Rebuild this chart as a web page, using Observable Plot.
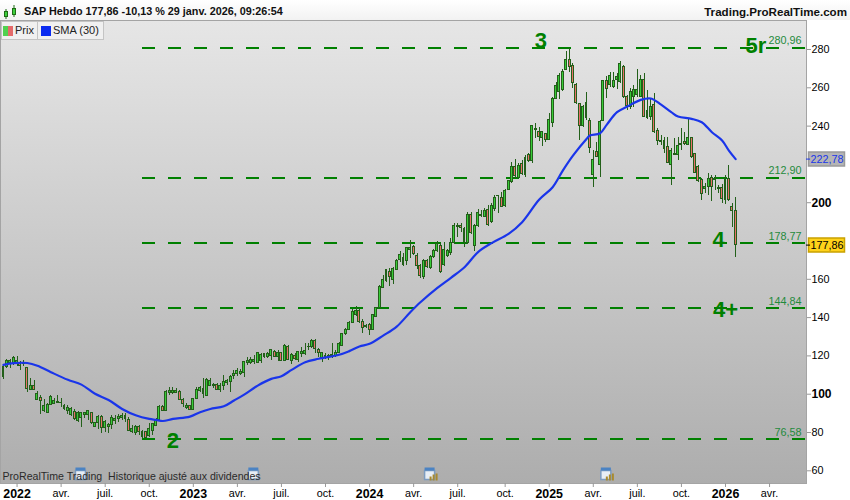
<!DOCTYPE html>
<html><head><meta charset="utf-8">
<script src="https://cdn.jsdelivr.net/npm/d3@7"></script>
<script src="https://cdn.jsdelivr.net/npm/@observablehq/plot@0.6"></script>
<style>
html,body{margin:0;padding:0;background:#fff;font-family:"Liberation Sans",Arial,sans-serif;width:850px;height:500px;overflow:hidden}
#head{position:relative;height:20px;width:850px;background:linear-gradient(#fff,#f2f2f2);font-weight:bold;line-height:19px;color:#111}
#head .l{position:absolute;left:24px;top:2px;white-space:pre;font-size:10.8px}
#head .r{position:absolute;right:3px;top:2px;white-space:pre;font-size:11.6px}
#head svg{position:absolute;left:4px;top:1px}
#legend{position:absolute;left:1px;top:21px;height:17px;display:flex;font-size:11px;line-height:17px;color:#222;border:1px solid #c4c4c4;background:#f0f0f0}
#legend div{display:flex;align-items:center;padding:0 3px 0 1px;white-space:pre}
#legend div+div{border-left:1px solid #c4c4c4;padding-left:3px;padding-right:4px}
#legend i{display:inline-block;height:10px;margin-right:2px}
</style></head><body>
<div id="head">
<svg width="16" height="18"><path d="M2 8v10M10 4v12" stroke="#1e6b14"/><rect x="0.5" y="10.5" width="3" height="5" fill="#3ccf3c" stroke="#1e6b14"/><rect x="8.5" y="7.5" width="3" height="6" fill="#3ccf3c" stroke="#1e6b14"/></svg>
<span class="l" id="titleL"></span><span class="r" id="titleR"></span></div>
<div id="legend"><div><i style="width:5px;background:#4fd14f;margin-right:0"></i><i style="width:5px;background:#e46a6a"></i><span id="lg0"></span></div><div><i style="width:10px;background:#0a2bf0"></i><span id="lg1"></span></div></div>
<div id="chart"></div>
<script>
const titleLeft = "SAP Hebdo 177,86 -10,13 % 29 janv. 2026, 09:26:54";
const titleRight = "Trading.ProRealTime.com";
const legendNames = ["Prix", "SMA (30)"];
const footNote = "ProRealTime Trading  Historique ajusté aux dividendes";

const tops = [114.1,117.2,117.2,119,117.2,116.2,116.5,113.7,104.5,104.5,
100.2,98,93.9,94.6,98.8,96.7,95.8,95.6,94.1,92.7,
92.3,90.7,90,90,90,91.1,90,84.8,88.3,88.3,
85.4,84.1,87.6,87.1,88,88.8,88.8,86.6,81.7,82.7,
82.7,80.1,80.1,81.9,84.5,86.6,93.5,93.5,101.4,101.9,
101.9,101.9,101,97,94.1,93.7,97.5,102.2,103.3,102.8,
107.5,106.8,105,104.9,104.5,106.2,106.8,109.2,110.6,112,
111.5,116.7,117.6,117.9,117.9,121.4,120.7,121,121,123.1,
122.3,121.4,121.4,125.4,124.9,120.6,120,122,122.3,122.8,
124.9,128,127.7,123.2,121.4,119.7,120.2,120.7,121.4,126,
131.5,133.6,137.4,143,143.7,143.7,137.6,135.7,136.2,141.3,
145.1,156.2,159.7,164.6,163.9,165.4,169.3,172.8,171.2,176.1,
176.4,177.1,172.4,167,169.6,169.6,171.9,175,178.5,177.5,
175.4,175,179.2,187.6,187.9,187.9,186.5,193.8,193.7,187.9,
194.7,193.8,195.9,196.3,198.5,202.6,203.7,202.6,206,211.1,
218.9,218.6,219.4,220,223.3,225,239.8,238.6,236.8,236.8,
236,243.3,254.2,261.2,266.4,268.3,274.6,274.6,271.6,261.5,
251.6,249.9,252.1,242.6,222.4,226.4,242,263.4,263.3,266.2,
263.3,265.5,272.5,270.8,255.4,258,258.9,258.6,264.1,264.1,
248.1,249.9,251.2,237.7,232.4,232.1,229,226.9,225.5,229.5,
230.7,231.9,233.9,233.9,225.2,218.9,211.6,208.4,212.4,213,
212.4,207.8,207.8,212.4,212.4,198,195.6];
const bottoms = [109.2,114.1,116.5,116.2,115.8,114.9,115.8,102.8,102.4,102.2,
97,96.7,91.4,90.1,94.6,94.9,95.3,95.3,92.3,91.1,
89.4,86.9,85.9,87.6,89,89,84.8,83.1,84.8,82.4,
82.4,83.1,84.1,86.2,87.1,87.6,87.1,81,80.1,79.6,
80.1,77.5,77.2,78.4,81,83.6,86.6,91.4,91.4,100.5,
100.8,100.7,97,94.9,92.7,91.8,91.8,97.5,101.9,100.2,
99.3,104.5,104.5,102.2,102.2,104.5,105.7,106.2,109.7,110.6,
110.6,110.9,116.2,116.5,116.7,116.2,117.2,119.3,119.6,120.2,
119.6,119.6,117.6,117.2,118,117.2,118.3,118,121.1,121.1,
124.6,124.6,123.7,121.4,119,119.3,119.3,119.7,119.7,121.4,
125.4,131.2,133.6,137.1,141.6,137.6,134.6,135,133.6,133.6,
140.2,145.1,155.5,159,161.1,159.7,165.1,170.3,167.4,169.8,
175.4,173.1,167,161.5,161.1,166.3,165.7,171.6,174.7,163.7,
167.4,172.4,173.6,178.9,187.2,186.9,179.4,178.9,184.1,177.6,
187.9,193.3,192.4,188.1,189.8,196.5,203.4,198,198.2,206.6,
210.7,214.2,213,215.1,214.6,222,221.7,238,234.2,233.9,
232.5,232.8,241.7,253.9,257.7,258.6,269.4,271.1,262.6,252,
239.9,240.3,244.3,228.6,214.5,223.8,219.9,242.9,259.4,261.5,
260.3,264.3,262.9,255.1,250.7,250.2,255.1,256,255.4,244.6,
244.1,245,236.8,232.1,231.6,227.8,220.8,219.9,225,225.1,
229.9,230.7,229.9,223.8,215.4,211.1,204.6,207.2,208.1,208.1,
211.9,207.2,202,201.5,201.5,195.6,177.86];
const highs = [114.5,117.9,117.9,119.6,119.6,117.2,117.6,114.1,108,107.1,
101.5,99.3,97,94.9,99.3,97.5,99.3,98,94.6,94.1,
93.2,91.8,91.1,90.6,90.7,91.4,90.4,85.4,88.8,88.8,
86.2,84.5,88.8,88.8,89.4,90,89.7,87.6,83.6,83.6,
83.6,81,80.7,84.8,84.8,87.1,94.1,94.1,101.9,103.3,
103.6,102.8,101.9,98,94.9,94.2,98,103.6,104,108,
108,108,105.7,105.4,105.7,109.7,107.5,109.7,112.3,113.2,
112.7,117.2,119.3,119.3,120.2,121.9,121,121.4,121.9,123.6,
122.8,122.8,122,126,125.4,121.1,121.1,122.5,124.6,126.6,
126.3,128.4,128.4,123.7,122,121.1,120.7,126.3,122.8,127.2,
131.9,134.1,137.8,144.1,145.8,144.6,138.8,136.4,137.1,141.6,
145.4,156.8,162,165.3,165.4,166.3,170.2,174.5,173.3,176.8,
180.2,177.6,173.3,167.7,170.2,170.2,172.4,175.4,179.9,178.5,
179.4,175.4,181.1,189,189.3,189,187.2,195,195,188.6,
196.3,195.9,196.8,198.5,199.4,203.8,203.8,205.5,206.7,211.5,
221.2,222.4,220.3,222,224.7,225.5,240.3,241.2,239.5,236.8,
236.3,246.8,254.8,262.9,267.3,269.4,279.1,280.3,272.5,262,
252,250.7,257.7,243.8,227.2,231.6,242.9,263.8,265.9,268.1,
268.1,267.3,273.9,271.6,255.9,259.4,261.2,269.4,266.4,267.3,
258.6,254.2,257.2,238.5,235.1,233.9,233.9,228.1,233.3,233.9,
238.9,236.8,243.8,234.2,225.5,219.4,212.4,209.8,215,214.2,
214.2,209,209.5,214.2,219.4,199.7,202.5];
const lows = [107.8,113.2,113.6,115,114.4,112.3,114.4,101,102.2,101.9,
96.7,89.4,90.6,89.7,94.1,94.6,94.9,93.2,91.4,89.4,
88.3,86.2,85.4,82.7,87.1,86.2,84.4,82.4,81.4,79.6,
80.1,79.6,81.4,84.1,85.4,86.2,85.4,80.7,79.3,78.4,
78.4,76.7,76.8,77.5,78.4,83.1,86.2,91.1,91.1,99.3,
99.8,100.2,96.7,92.8,91.8,91.4,91.4,97,101,97.5,
98.8,104,102.8,101.9,101,101.9,104.5,101,107.5,109.2,
109.7,108.5,115,115.5,115.5,115.8,115.8,118.4,118.4,117.6,
119.3,117.2,117.2,116.9,117.6,115.5,117.6,116.7,119.3,120.2,
122.8,123.7,121.1,119.3,116.7,118,117.6,118.5,119.3,121.1,
124.9,130.7,133.3,136.7,140.6,137.1,131.9,134.1,130.7,133.3,
139.9,144.6,155,158.5,156.2,157.3,164.6,169,166.7,167.2,
170.7,172.4,165,160.2,159.7,165.4,165,170.7,174.2,163.2,
166.7,171.6,172.4,178.2,182,184.6,176.4,178.2,183.4,174.7,
187.2,192.4,192.1,187.6,189.3,195.6,194.2,197.7,197.7,206.2,
210.2,212.5,212.5,214.2,213,221.2,220.7,233.4,232.1,229.4,
231.6,232.5,239.5,253.7,253.7,258.2,269,268.1,259.4,251.3,
232.5,239.4,242.9,225.5,207.7,223.4,213.3,242.5,254.2,260.3,
259.4,258.9,262.4,254.2,248.1,248.5,249.5,255.1,255.1,244.3,
243.2,242.9,235.9,229.8,229.8,225.5,220.6,209,224.6,222,
227.2,229.9,229.9,222.9,215.1,210.7,201.1,204.6,203.7,200.8,
206.4,204.6,199.7,199,200.8,187.2,171.5];
const fallingWeeks = [5,7,9,11,18,21,26,29,37,40,42,47,52,53,55,59,63,80,82,84,86,92,93,105,106,108,114,118,121,122,123,125,129,135,136,138,143,147,151,153,155,158,160,167,168,169,170,172,173,175,178,183,184,189,190,192,193,196,201,203,204,205,206,209,212,214,215,216];

const smaWeeks = [0,3,7,10,14,19,23,27,31,35,39,43,45,47,50,55,58,61,65,68,71,75,79,82,85,89,93,99,102,105,108,112,116,120,123,128,132,136,140,144,149,153,158,162,165,168,172,173,176,178,181,184,188,191,194,197,199,203,206,209,212,214,216];
const smaValues = [115.3,116.2,116.3,114.9,111.5,107.5,105,100.2,97,92.3,89,87.1,86.6,86,87.1,88.3,90.6,92.3,93.7,96.7,99.8,104.5,108,109.4,112.7,116.7,118.5,120.6,122.5,124.9,126.3,130.6,135.3,142.8,148,155.5,160.8,166.3,174.2,178.9,183.7,189.8,201.5,208.1,216.8,224.6,233.3,235.1,236.3,240.8,247.3,250.2,253.7,254.4,251.2,247.3,245,243.8,242,236.8,232.5,227.2,222.78];

const levels = [280.96,212.9,178.77,144.84,76.58];
const levelLabels = ["280,96","212,90","178,77","144,84","76,58"];
const waveLabels = ["3","5r","4","4+","2"];
const waveWeeks = [158.5,222,211,213,50];
const wavePrices = [284.7,282.1,180.3,144.2,75.8];
const priceTags = [222.78,177.86];
const priceTagLabels = ["222,78","177,86"];
const yTicks = [60,80,120,140,160,240,260,280];
const yBoldTicks = [100,200];
const monthTicks = ["2022-04-04","2022-07-04","2022-10-03","2023-04-03","2023-07-03","2023-10-02","2024-04-01","2024-07-01","2024-10-07","2025-04-07","2025-07-07","2025-10-06","2026-04-06"];
const monthNames = ["avr.","juil.","oct.","avr.","juil.","oct.","avr.","juil.","oct.","avr.","juil.","oct.","avr."];
const yearTicks = ["2022-01-03","2023-01-02","2024-01-01","2025-01-06","2026-01-05"];
const yearNames = ["2022","2023","2024","2025","2026"];
const eventDates = ["2022-05-16","2023-05-08","2024-05-06","2025-05-05"];
const payoutDates = ["2024-05-06","2025-05-05"];

const firstWeek = Date.UTC(2021,11,6);
const weekDate = n => new Date(firstWeek + n*7*864e5);
const downSet = new Set(fallingWeeks);
const candles = tops.map((t,i)=>({date:weekDate(i),top:t,bottom:bottoms[i],high:highs[i],low:lows[i],down:downSet.has(i)}));
const sma = smaWeeks.map((n,i)=>({date:weekDate(n),value:smaValues[i]}));
const waves = waveLabels.map((t,i)=>({t,date:weekDate(waveWeeks[i]),p:wavePrices[i]}));

document.getElementById("titleL").textContent = titleLeft;
document.getElementById("titleR").textContent = titleRight;
document.getElementById("lg0").textContent = legendNames[0];
document.getElementById("lg1").textContent = legendNames[1];

const monthMap = new Map(monthTicks.map((d,i)=>[+new Date(d),monthNames[i]]));
const yearMap = new Map(yearTicks.map((d,i)=>[+new Date(d),yearNames[i]]));
const font = '"Liberation Sans",Arial,sans-serif';
const green = "#008000", wick = "#23601a";
const tagBox = {draw(c){c.rect(-18,-7,36,14);}};
const calIcon = {draw(c){c.rect(-6,-4,10,9);}};
const calHead = {draw(c){c.rect(-6,-7,10,3);}};
const goldBars = {draw(c){c.rect(-1,2,2,4);c.rect(2,0,2,6);c.rect(5,-1,2,7);}};
const gradient = () => {
  const defs = d3.create("svg:defs");
  const g = defs.append("linearGradient").attr("id","bg").attr("x1",0).attr("x2",0).attr("y1",0).attr("y2",1);
  g.append("stop").attr("offset","0").attr("stop-color","#e6e6e6");
  g.append("stop").attr("offset","1").attr("stop-color","#adadad");
  return defs.node();
};

const chart = Plot.plot({
  width:850,height:480,marginLeft:0,marginRight:44,marginTop:0,marginBottom:17,
  style:{fontFamily:font,background:"#fff",overflow:"visible",display:"block"},
  x:{type:"utc",domain:[weekDate(-0.885),weekDate(236.9)]},
  y:{domain:[53.37,295.15]},
  marks:[
    gradient,
    Plot.frame({fill:"url(#bg)"}),
    Plot.frame({stroke:"#a4a4a4"}),
    Plot.dot(eventDates.map(d=>new Date(d)),{x:d=>d,frameAnchor:"bottom",dy:-9,symbol:calIcon,fill:"#e8eef5",stroke:"#7d9cc0",r:4}),
    Plot.dot(eventDates.map(d=>new Date(d)),{x:d=>d,frameAnchor:"bottom",dy:-9,symbol:calHead,fill:"#4b83c3",r:4}),
    Plot.dot(payoutDates.map(d=>new Date(d)),{x:d=>d,frameAnchor:"bottom",dy:-9,symbol:goldBars,fill:"#a98a2e",r:4}),
    Plot.ruleY(levels,{y:d=>d,x1:weekDate(41),x2:weekDate(236.9),stroke:green,strokeWidth:2,strokeDasharray:"13,13",shapeRendering:"crispEdges"}),
    Plot.ruleX(candles,{x:"date",y1:"low",y2:"high",stroke:wick,strokeWidth:1,shapeRendering:"crispEdges"}),
    Plot.rect(candles,{x1:d=>d3.utcDay.offset(d.date,-2),x2:d=>d3.utcDay.offset(d.date,2),y1:"bottom",y2:"top",fill:d=>d.down?"#e8706a":"#38cc38",stroke:wick,strokeWidth:1,shapeRendering:"crispEdges"}),
    Plot.line(sma,{x:"date",y:"value",stroke:"#1a35ea",strokeWidth:2.2,curve:"catmull-rom"}),
    Plot.text(levels,{y:d=>d,text:(d,i)=>levelLabels[i],frameAnchor:"right",textAnchor:"end",dx:-5,dy:-7,fill:"#1f8a3c",fontSize:10.8}),
    Plot.text(waves,{x:"date",y:"p",text:"t",fill:green,fontSize:22,fontWeight:"bold"}),
    Plot.text([footNote],{text:d=>d,frameAnchor:"bottom-left",dx:2,dy:-4,fill:"#2a2a2a",fontSize:10.6}),
    Plot.axisX({ticks:monthTicks.map(d=>new Date(d)),tickFormat:d=>monthMap.get(+d),tickSize:4,tickPadding:2,stroke:"#999",fill:"#000",fontSize:10.8,label:null}),
    Plot.axisX({ticks:yearTicks.map(d=>new Date(d)),tickFormat:d=>yearMap.get(+d),tickSize:4,tickPadding:2,stroke:"#999",fill:"#000",fontSize:12.4,fontWeight:"bold",label:null}),
    Plot.axisY({anchor:"right",ticks:yTicks,tickFormat:d=>d,tickSize:4,tickPadding:1,stroke:"#999",fill:"#000",fontSize:10.8,label:null}),
    Plot.axisY({anchor:"right",ticks:yBoldTicks,tickFormat:d=>d,tickSize:4,tickPadding:1,stroke:"#999",fill:"#000",fontSize:12,fontWeight:"bold",label:null}),
    Plot.dot([priceTags[0]],{y:d=>d,frameAnchor:"right",dx:20,symbol:tagBox,fill:"#b5b5b5",stroke:"#9a9a9a",r:5}),
    Plot.dot([priceTags[1]],{y:d=>d,frameAnchor:"right",dx:20,symbol:tagBox,fill:"#ffd21a",stroke:"#c9a100",r:5}),
    Plot.ruleY([priceTags[0]],{y:d=>d,x1:weekDate(236.9),x2:weekDate(238.1),stroke:"#1a35ea"}),
    Plot.ruleY([priceTags[1]],{y:d=>d,x1:weekDate(236.9),x2:weekDate(238.1),stroke:"#000"}),
    Plot.text(priceTags,{y:d=>d,text:(d,i)=>priceTagLabels[i],frameAnchor:"right",textAnchor:"end",dx:37,fill:(d,i)=>i==0?"#1a35ea":"#000",fontSize:10.8})
  ]
});
document.getElementById("chart").appendChild(chart);
</script></body></html>
